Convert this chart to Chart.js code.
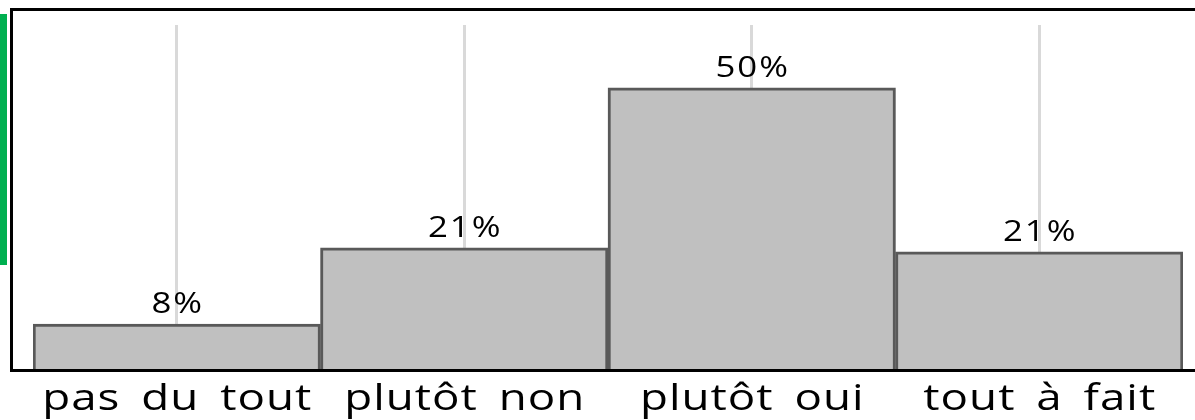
<!DOCTYPE html>
<html>
<head>
<meta charset="utf-8">
<script src="https://cdn.jsdelivr.net/npm/chart.js@4/dist/chart.umd.min.js"></script>
<style>
    html, body { margin: 0; padding: 0; background: #fff; }
    #wrap { width: 1195px; height: 420px; }
</style>
</head>
<body>
<div id="wrap"><canvas id="barCanvas"></canvas></div>
<script>
const categories = ['pas du tout', 'plutôt non', 'plutôt oui', 'tout à fait'];
const values = [8.1, 21.6, 49.9, 20.9];
const valueLabels = ['8%', '21%', '50%', '21%'];

// texte étiré et espacé, centré sur x
function wideText(ctx, text, x, y, stretch, spacing, wordGap) {
    const chars = [...text];
    const widths = chars.map(c => ctx.measureText(c).width * stretch + spacing + (c === ' ' ? wordGap : 0));
    const total = widths.reduce((a, b) => a + b, 0) - spacing;
    let cx = x - total / 2;
    chars.forEach((c, i) => {
        ctx.save();
        ctx.translate(cx, y);
        ctx.scale(stretch, 1);
        ctx.fillText(c, 0, 0);
        ctx.restore();
        cx += widths[i];
    });
}

(() => {
    const canvas = document.getElementById('barCanvas');

    // cadre noir, trait vert à gauche
    const frame = {
        id: 'frame',
        afterDraw(chart) {
            const ctx = chart.ctx;
            const area = chart.chartArea;
            ctx.save();
            ctx.fillStyle = '#00b050';
            ctx.fillRect(0, 14, 7, 251);
            ctx.strokeStyle = '#000';
            ctx.lineWidth = 3;
            ctx.beginPath();
            ctx.moveTo(11.5, area.bottom + 1);
            ctx.lineTo(11.5, 9.5);
            ctx.lineTo(chart.width, 9.5);
            ctx.stroke();
            ctx.beginPath();
            ctx.moveTo(10, area.bottom + 0.5);
            ctx.lineTo(chart.width, area.bottom + 0.5);
            ctx.stroke();
            ctx.restore();
        }
    };

    const textPlugin = {
        id: 'texts',
        afterDatasetsDraw(chart) {
            const ctx = chart.ctx;
            const meta = chart.getDatasetMeta(0);
            const xScale = chart.scales.x;
            ctx.save();
            ctx.fillStyle = '#000';
            ctx.textAlign = 'left';
            ctx.textBaseline = 'alphabetic';
            ctx.font = '29px "Open Sans"';
            meta.data.forEach((bar, i) => {
                wideText(ctx, valueLabels[i], bar.x, bar.y - 11, 1.2, 2, 0);
            });
            ctx.font = '36px "Open Sans"';
            categories.forEach((c, i) => {
                wideText(ctx, c, xScale.getPixelForValue(i), 410, 1.27, 1, 8);
            });
            ctx.restore();
        }
    };

    const data = {
        labels: categories,
        datasets: [{
            data: values,
            backgroundColor: '#c0c0c0',
            borderColor: '#595959',
            borderWidth: 3,
            categoryPercentage: 1,
            barPercentage: 1
        }]
    };

    const options = {
        responsive: true,
        maintainAspectRatio: false,
        animation: false,
        layout: { padding: { left: 33, right: 12, top: 25, bottom: 50 } },
        plugins: {
            legend: { display: false },
            tooltip: { enabled: false }
        },
        scales: {
            x: {
                grid: { offset: false, color: '#d9d9d9', lineWidth: 3, drawTicks: false },
                border: { display: false },
                ticks: { display: false }
            },
            y: {
                display: false,
                min: 0,
                max: 61
            }
        }
    };

    new Chart(canvas, { type: 'bar', data, options, plugins: [frame, textPlugin] });
})();
</script>
</body>
</html>
